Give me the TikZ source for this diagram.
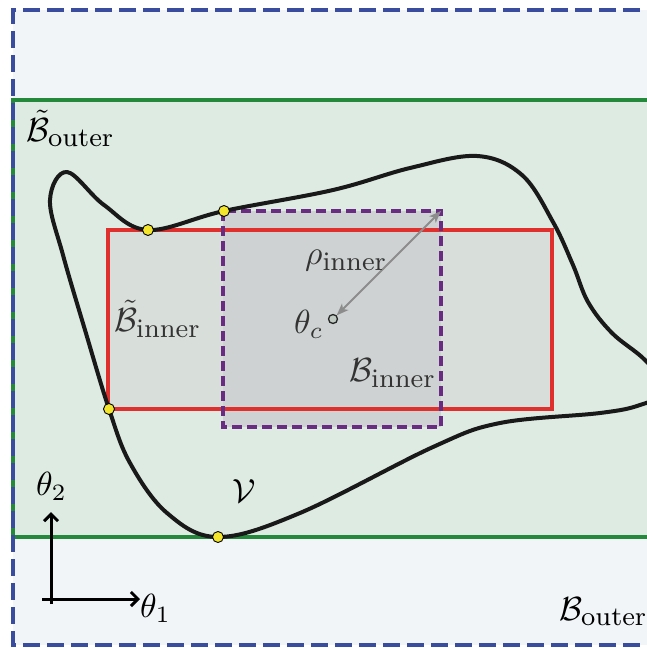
\documentclass[tikz,border=0pt]{standalone}
\usepackage{graphicx}
\usetikzlibrary{arrows.meta}
\definecolor{bgblue}{HTML}{F2F5F8}
\definecolor{dashblue}{HTML}{3A4C9E}
\definecolor{greenfill}{HTML}{DDEBE2}
\definecolor{greenline}{HTML}{25893B}
\definecolor{redline}{HTML}{E0302E}
\definecolor{redfill}{HTML}{D8DEDA}
\definecolor{purpleline}{HTML}{6A2B82}
\definecolor{purplefill}{HTML}{CED2D2}
\definecolor{dotyellow}{HTML}{F3E52B}
\definecolor{arrowgray}{HTML}{8C8C8C}
\definecolor{labgray}{HTML}{333333}
\newcommand{\subt}[1]{\mbox{\fontsize{8}{8}\selectfont #1}}
\newcommand{\lbl}[1]{\scalebox{3.35}{#1}}
\tikzset{
  lab/.style={inner sep=0pt, anchor=base west},
  ydot/.style={circle, draw=black, line width=0.9pt, fill=dotyellow, minimum size=11pt, inner sep=0pt},
}
\begin{document}
\begin{tikzpicture}[x=1pt,y=-1pt]
\useasboundingbox (0,0) rectangle (647,648);
\clip (0,0) rectangle (647,648);
% named corners
\coordinate (bo1) at (13,10);   \coordinate (bo2) at (13,645);
\coordinate (bo3) at (760,10);  \coordinate (bo4) at (760,645);
\coordinate (go1) at (13,100);  \coordinate (go2) at (13,537);
\coordinate (go3) at (760,100); \coordinate (go4) at (760,537);
\coordinate (ri1) at (108,230); \coordinate (ri2) at (552,409);
\coordinate (pi1) at (223,211); \coordinate (pi2) at (441,427);
\coordinate (pine) at (441,211);
% outer box fill
\fill[bgblue] (bo1) rectangle (bo4);
% green box
\fill[greenfill] (go1) rectangle (go4);
\draw[greenline, line width=3.5pt] (go3) -- (go1) -- (go2) -- (go4);
% fills of inner boxes
\fill[redfill] (ri1) rectangle (ri2);
\fill[purplefill] (pi1) rectangle (pi2);
% outlines
\draw[redline, line width=3.5pt] (ri1) rectangle (ri2);
\draw[purpleline, line width=3.5pt, dash pattern=on 10pt off 5pt] (pi1) rectangle (pi2);
\draw[dashblue, line width=4pt, dash pattern=on 17pt off 7pt] (bo3) -- (bo1) -- (bo2) -- (bo4);
% curve V
\draw[black!90, line width=4pt, line join=round] plot[smooth cycle, tension=0.6] coordinates {
 (67,172) (104,205) (148,230) (224,211) (333,190) (410,168) (477,156)
 (522,175) (553,222) (573,265) (588,302) (612,333) (645,360) (668,390) (640,405)
 (600,413) (500,423) (433,447) (300,513) (218,537) (167,513) (130,463) (109,409)
 (85,330) (63,255) (50,200)};
% dots
\node[ydot] (d1) at (148,230) {};
\node[ydot] (d2) at (224,211) {};
\node[ydot] (d3) at (109,409) {};
\node[ydot] (d4) at (218,537) {};
% center
\node[circle, draw=black!85, line width=1.3pt, fill=greenfill!70!gray, minimum size=9pt, inner sep=0pt] (tc) at (333,319) {};
\draw[arrowgray, line width=1.8pt, {Stealth[length=12pt,width=9pt,inset=3pt]}-{Stealth[length=12pt,width=9pt,inset=3pt]}] (tc) -- (pine);
% labels
\node[lab] (lbo) at (26,141) {\lbl{$\tilde{\mathcal{B}}_{\subt{outer}}$}};
\node[lab, text=labgray] (lbi) at (114,331) {\lbl{$\tilde{\mathcal{B}}_{\subt{inner}}$}};
\node[lab, text=labgray] (lrho) at (305,264) {\lbl{$\rho_{\subt{inner}}$}};
\node[lab, text=labgray] (ltc) at (294,333) {\lbl{$\theta_c$}};
\node[lab, text=labgray] (lbin) at (349,381) {\lbl{$\mathcal{B}_{\subt{inner}}$}};
\node[lab] (lv) at (232,502) {\lbl{$\mathcal{V}$}};
\node[lab] (lt2) at (36,495) {\lbl{$\theta_2$}};
\node[lab] (lt1) at (140,617) {\lbl{$\theta_1$}};
\node[lab] (lbout) at (559,620) {\lbl{$\mathcal{B}_{\subt{outer}}$}};
% axes
\coordinate (axd) at (51,604);
\coordinate (axl) at (42,599);
\coordinate (axy) at (51,512);
\coordinate (axx) at (140,599);
\draw[black, line width=3pt, -{Straight Barb[length=7pt,width=14pt]}] (axd) -- (axy);
\draw[black, line width=3pt, -{Straight Barb[length=7pt,width=14pt]}] (axl) -- (axx);
\end{tikzpicture}
\end{document}
